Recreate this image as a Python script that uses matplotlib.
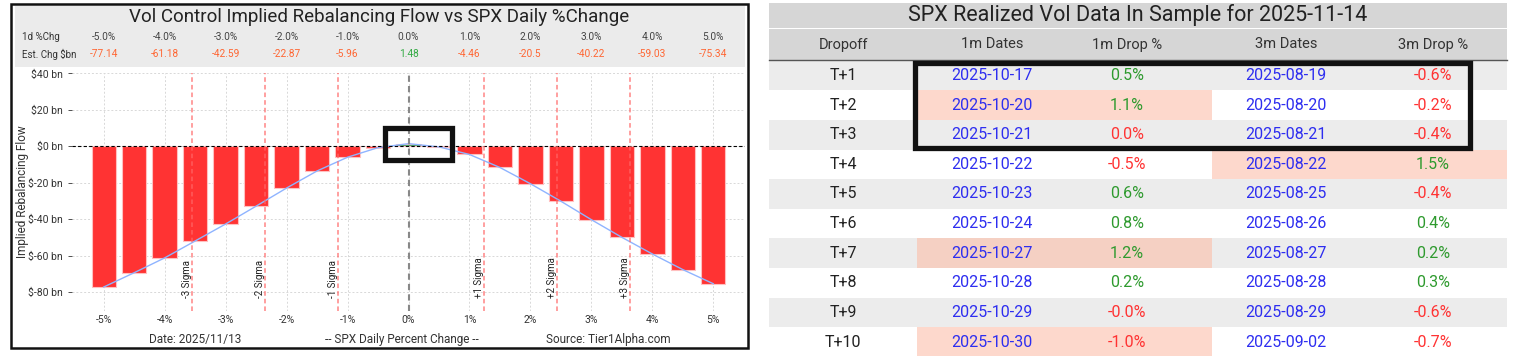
import matplotlib
matplotlib.use("Agg")
import matplotlib.pyplot as plt
from matplotlib.patches import Rectangle
import matplotlib.transforms as mtransforms

plt.rcParams['font.family'] = ['Roboto', 'DejaVu Sans']

# ---------------- data: left chart ----------------
pct_changes = [-5.0, -4.5, -4.0, -3.5, -3.0, -2.5, -2.0, -1.5, -1.0, -0.5, 0.0,
               0.5, 1.0, 1.5, 2.0, 2.5, 3.0, 3.5, 4.0, 4.5, 5.0]
flows_bn = [-77.14, -69.3, -61.18, -51.9, -42.59, -32.8, -22.87, -13.5, -5.96, -0.7, 1.48,
            -0.3, -4.46, -11.6, -20.5, -30.1, -40.22, -49.9, -59.03, -67.6, -75.34]
xtick_vals = [-5, -4, -3, -2, -1, 0, 1, 2, 3, 4, 5]
ytick_vals = [40, 20, 0, -20, -40, -60, -80]
sigma_levels = [-3.55, -2.35, -1.16, 1.24, 2.43, 3.63]
sigma_labels = ['-3 Sigma', '-2 Sigma', '-1 Sigma', '+1 Sigma', '+2 Sigma', '+3 Sigma']
highlight_x = [-0.385, 0.72]
highlight_y = [-7.4, 10.1]

chart_title = "Vol Control Implied Rebalancing Flow vs SPX Daily %Change"
date_text = "Date: 2025/11/13"
xlabel_text = "-- SPX Daily Percent Change --"
source_text = "Source: Tier1Alpha.com"

# ---------------- data: right table ----------------
table_title = "SPX Realized Vol Data In Sample for 2025-11-14"
col_headers = ["Dropoff", "1m Dates", "1m Drop %", "3m Dates", "3m Drop %"]
dropoff = ["T+1", "T+2", "T+3", "T+4", "T+5", "T+6", "T+7", "T+8", "T+9", "T+10"]
dates_1m = ["2025-10-17", "2025-10-20", "2025-10-21", "2025-10-22", "2025-10-23",
            "2025-10-24", "2025-10-27", "2025-10-28", "2025-10-29", "2025-10-30"]
drop_1m = [0.5, 1.1, 0.0, -0.5, 0.6, 0.8, 1.2, 0.2, -0.0, -1.0]
dates_3m = ["2025-08-19", "2025-08-20", "2025-08-21", "2025-08-22", "2025-08-25",
            "2025-08-26", "2025-08-27", "2025-08-28", "2025-08-29", "2025-09-02"]
drop_3m = [-0.6, -0.2, -0.4, 1.5, -0.4, 0.4, 0.2, 0.3, -0.6, -0.7]

W, H = 1514, 356
fig = plt.figure(figsize=(W / 100, H / 100), dpi=100)
fig.patch.set_facecolor('white')

RED = '#ff3333'
GREEN = '#3f9f5f'

# ---------------- left chart axes ----------------
ax_l, ax_r, ax_t, ax_b = 72, 745, 72.5, 311
ax = fig.add_axes([ax_l / W, 1 - ax_b / H, (ax_r - ax_l) / W, (ax_b - ax_t) / H])
colors = [GREEN if v > 0 else RED for v in flows_bn]
ax.bar(pct_changes, flows_bn, width=0.4, color=colors, edgecolor='#ffc0c0',
       linewidth=0.8, zorder=3)
ax.plot(pct_changes, flows_bn, color='#8fb4ff', lw=1.0, zorder=4)
ax.axhline(0, color='black', lw=0.8, ls=(0, (3, 2)), zorder=5)
ax.axvline(0, color='#888888', lw=1.5, ls=(0, (3, 2)), zorder=5)
for s, lab in zip(sigma_levels, sigma_labels):
    ax.axvline(s, color='#ff6666', lw=1.1, ls=(0, (3, 2)), alpha=0.8, zorder=5)
    ax.text(s - 0.08, -83, lab, rotation=90, ha='center', va='bottom',
            fontsize=7, color='#222222', zorder=6)
ax.add_patch(Rectangle((highlight_x[0], highlight_y[0]), highlight_x[1] - highlight_x[0],
                       highlight_y[1] - highlight_y[0], fill=False, ec='#111111',
                       lw=3.8, zorder=7))
ax.set_xlim(-5.52, 5.52)
ax.set_ylim(-90.3, 40.5)
ax.set_xticks(xtick_vals)
ax.set_xticklabels([f"{v}%" for v in xtick_vals])
ax.set_yticks(ytick_vals)
ax.set_yticklabels([f"${v} bn" for v in ytick_vals])
ax.tick_params(axis='both', labelsize=7.5, colors='#333333', length=3, width=0.6)
ax.tick_params(axis='x', length=0, pad=3)
ax.grid(True, color='#d8d8d8', ls=(0, (2, 2)), lw=0.7, zorder=0)
for sp in ax.spines.values():
    sp.set_visible(False)
ax.set_ylabel("Implied Rebalancing Flow", fontsize=8.5, color='#333333')
ax.yaxis.set_label_coords(-0.064, 0.5)

# ---------------- overlay in pixel coordinates ----------------
ov = fig.add_axes([0, 0, 1, 1])
ov.set_xlim(0, W)
ov.set_ylim(H, 0)
ov.axis('off')
ov.patch.set_visible(False)

# left panel frame and header
ov.add_patch(Rectangle((15, 5.5), 730, 61.5, fc='#ebebeb', ec='none', zorder=1))
ov.add_patch(Rectangle((10.5, 3.5), 737, 344, fill=False, ec='#111111', lw=1.8, zorder=2))
ov.text(379, 17.5, chart_title, ha='center', va='center', fontsize=13.5, color='#222222')
ov.text(22, 37, "1d %Chg", ha='left', va='center', fontsize=7, color='#333333')
ov.text(22, 54, "Est. Chg $bn", ha='left', va='center', fontsize=7, color='#333333')
blend = mtransforms.blended_transform_factory(ax.transData, ov.transData)
for x, v in zip(pct_changes, flows_bn):
    if float(x).is_integer():
        ov.text(x, 37, f"{x:.1f}%", transform=blend, ha='center', va='center',
                fontsize=7.3, color='#444444')
        ov.text(x, 54, f"{v:g}", transform=blend, ha='center', va='center',
                fontsize=7.3, color=('#33aa44' if v > 0 else '#ff6633'))
ov.text(195, 339, date_text, ha='center', va='center', fontsize=8.5, color='#333333')
ov.text(402, 339, xlabel_text, ha='center', va='center', fontsize=8.5, color='#333333')
ov.text(608, 339, source_text, ha='center', va='center', fontsize=8.5, color='#333333')

# ---------------- right table ----------------
tx0, tx1 = 769, 1507
ov.add_patch(Rectangle((tx0, 3), tx1 - tx0, 25, fc='#d6d6d6', ec='none'))
ov.add_patch(Rectangle((tx0, 29), tx1 - tx0, 31, fc='#d6d6d6', ec='none'))
ov.plot([tx0, tx1], [60.3, 60.3], color='#555555', lw=1.0)
ov.text((tx0 + tx1) / 2, 15.5, table_title, ha='center', va='center', fontsize=15.5,
        color='#222222')
col_x = [843, 992, 1127, 1286, 1433]
for cx, h in zip(col_x, col_headers):
    ov.text(cx, 44.5, h, ha='center', va='center', fontsize=10.5, color='#333333')

row_h = 29.6
y0 = 60.8
BLUE = '#2e2ef0'
TGREEN = '#2e9a2e'
TRED = '#ff3333'
FS = 11.5
for i in range(len(dropoff)):
    top = y0 + i * row_h
    cy = top + row_h / 2
    shaded = (i % 2 == 0)
    bg = '#ececec' if shaded else 'white'
    hl = '#f5d0c3' if shaded else '#fdd8cc'
    ov.add_patch(Rectangle((tx0, top), tx1 - tx0, row_h, fc=bg, ec='none', zorder=1))
    if abs(drop_1m[i]) >= 1.0:
        ov.add_patch(Rectangle((917, top), 295, row_h, fc=hl, ec='none', zorder=2))
    if abs(drop_3m[i]) >= 1.0:
        ov.add_patch(Rectangle((1212, top), 295, row_h, fc=hl, ec='none', zorder=2))
    ov.text(col_x[0], cy, dropoff[i], ha='center', va='center', fontsize=FS,
            color='#222222', zorder=4)
    ov.text(col_x[1], cy, dates_1m[i], ha='center', va='center', fontsize=FS,
            color=BLUE, zorder=4)
    ov.text(col_x[2], cy, f"{drop_1m[i]:.1f}%", ha='center', va='center', fontsize=FS,
            color=(TGREEN if drop_1m[i] > 0 else TRED), zorder=4)
    ov.text(col_x[3], cy, dates_3m[i], ha='center', va='center', fontsize=FS,
            color=BLUE, zorder=4)
    ov.text(col_x[4], cy, f"{drop_3m[i]:.1f}%", ha='center', va='center', fontsize=FS,
            color=(TGREEN if drop_3m[i] > 0 else TRED), zorder=4)

ov.add_patch(Rectangle((914.5, 62.5), 555, 85, fill=False, ec='#111111', lw=3.8, zorder=5))

fig.savefig("out.png", dpi=100, facecolor='white')
